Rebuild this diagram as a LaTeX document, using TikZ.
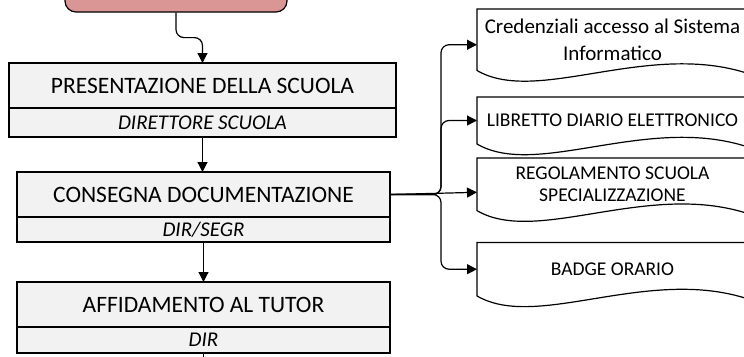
\documentclass[tikz,border=0pt]{standalone}
\usepackage{fontspec}
\setmainfont{Carlito}
\usetikzlibrary{positioning, arrows.meta}
\definecolor{rosa}{HTML}{D99694}
\definecolor{grigio}{HTML}{F2F2F2}
\tikzset{
  box/.style={draw, fill=grigio, line width=1.2pt, inner sep=0pt, outer sep=0pt, font=\fontsize{23.5}{26}\selectfont},
  ruolo/.style={box, font=\fontsize{21}{24}\selectfont\itshape},
  doc/.style={inner sep=0pt, outer sep=0pt, minimum width=271pt, align=center, font=\fontsize{19.5}{21.6}\selectfont},
  freccia/.style={line width=1.2pt, -{Triangle[length=10pt,width=10pt]}}
}
% contorno del documento (fondo ondulato)
\newcommand{\documento}[1]{%
  \draw[line width=1.2pt] (#1.south east) -- (#1.north east) -- (#1.north west) -- (#1.south west)
    .. controls +(60,35) and +(-101,-33) .. ++(271,3) -- cycle;}

\begin{document}
\begin{tikzpicture}[x=1pt, y=-1pt]
\useasboundingbox (0,0) rectangle (744,356);
\clip (0,0) rectangle (744,356);
% inizio
\node[draw, fill=rosa, rounded corners=11pt, line width=1.2pt, minimum width=222pt, minimum height=60pt] (start) at (176,-18) {};
% caselle
\node[box, minimum width=387pt, minimum height=45pt] (pres) at (202.5,85.5) {PRESENTAZIONE DELLA SCUOLA};
\node[ruolo, minimum width=387pt, minimum height=29pt, below=0pt of pres] (presr) {DIRETTORE SCUOLA};
\node[box, minimum width=373pt, minimum height=45pt] (cons) at (203.5,194.5) {CONSEGNA DOCUMENTAZIONE};
\node[ruolo, minimum width=373pt, minimum height=25pt, below=0pt of cons] (consr) {DIR/SEGR};
\node[box, minimum width=373pt, minimum height=45pt] (aff) at (203.5,304.5) {AFFIDAMENTO AL TUTOR};
\node[ruolo, minimum width=373pt, minimum height=26pt, below=0pt of aff] (affr) {DIR};
\coordinate (fine) at (203.5,362);
% documenti
\node[doc, minimum height=61.5pt, font=\fontsize{21}{26.5}\selectfont] (cred) at (612.5,39.75) {Credenziali accesso al Sistema\\Informatico};
\node[doc, minimum height=47pt] (libr) at (612.5,120.5) {LIBRETTO DIARIO ELETTRONICO};
\node[doc, minimum height=52.7pt] (rego) at (612.5,184.3) {REGOLAMENTO SCUOLA\\SPECIALIZZAZIONE};
\node[doc, minimum height=53.5pt] (badge) at (612.5,269.2) {BADGE ORARIO};
\documento{cred}
\documento{libr}
\documento{rego}
\documento{badge}
% frecce
\draw[freccia, rounded corners=8pt] (start.south) -- ++(0,25) -| (pres.north);
\draw[freccia] (presr.south) -- (presr.south |- cons.north);
\draw[freccia] (consr.south) -- (consr.south |- aff.north);
\draw[line width=1.2pt] (affr.south) -- (fine);
\draw[freccia, rounded corners=8pt] (cons.east) -- ++(51,0) |- ([yshift=-5pt]cred.west);
\draw[freccia, rounded corners=8pt] (cons.east) -- ++(51,0) |- (libr.west);
\draw[freccia] (cons.east) -- ([yshift=-8pt]rego.west);
\draw[freccia, rounded corners=8pt] (cons.east) -- ++(51,0) |- (badge.west);
\end{tikzpicture}
\end{document}
